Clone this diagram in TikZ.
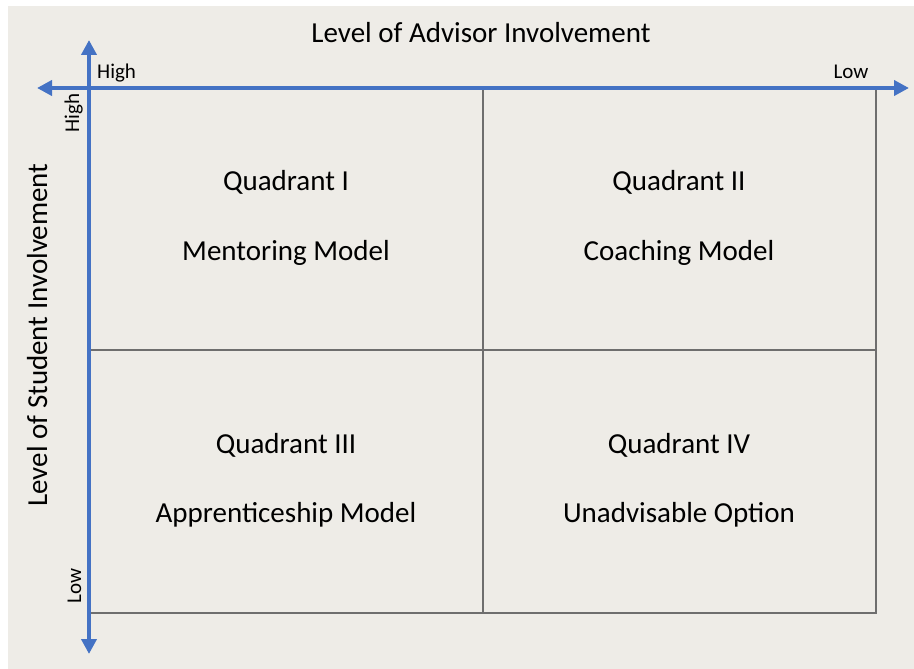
\documentclass[tikz,border=0pt]{standalone}
\usepackage{fontspec}
\setmainfont{Carlito}
\usepackage{tikz}
\usetikzlibrary{arrows.meta}

\begin{document}
\begin{tikzpicture} [x=1pt,y=-1pt]
    % colours and looks %
    \definecolor{bg}{RGB}{238,236,231}
    \definecolor{ax}{RGB}{68,114,196}
    \definecolor{gr}{RGB}{110,110,110}
    \tikzset{
      axisline/.style={line width=4pt,draw=ax,{Triangle[length=15pt,width=15pt]}-{Triangle[length=15pt,width=15pt]}},
      bigtext/.style={font=\fontsize{29}{33}\selectfont,anchor=base,inner sep=0pt},
      smalltext/.style={font=\fontsize{21}{24}\selectfont,anchor=base,inner sep=0pt}
    }
    \useasboundingbox (0,0) rectangle (914,669);
    \fill[bg] (8,6) rectangle (914,669);

    % quadrant grid %
    \draw[gr,line width=1.5pt] (89,88) rectangle (876,613);
    \draw[gr,line width=1.5pt] (483,88) -- (483,613);
    \draw[gr,line width=1.5pt] (89,350) -- (876,350);

    % axes %
    \coordinate (xl) at (37,88);
    \coordinate (xr) at (909,88);
    \coordinate (yt) at (89,40);
    \coordinate (yb) at (89,654);
    \draw[axisline] (xl) -- (xr);
    \draw[axisline] (yt) -- (yb);

    % axis labels %
    \node[bigtext] (advisor) at (481,43) {Level of Advisor Involvement};
    \node[bigtext,rotate=90] (student) at (47,335) {Level of Student Involvement};
    \node[smalltext,anchor=base west] (xhigh) at (97,78) {High};
    \node[smalltext] (xlow) at (851,79) {Low};
    \node[smalltext,rotate=90] (yhigh) at (79,113) {High};
    \node[smalltext,rotate=90] (ylow) at (81,586) {Low};

    % quadrants %
    \node[bigtext] (q1) at (286,190) {Quadrant I};
    \node[bigtext] (m1) at (286,260) {Mentoring Model};
    \node[bigtext] (q2) at (679,190) {Quadrant II};
    \node[bigtext] (m2) at (679,260) {Coaching Model};
    \node[bigtext] (q3) at (286,453) {Quadrant III};
    \node[bigtext] (m3) at (286,522) {Apprenticeship Model};
    \node[bigtext] (q4) at (679,453) {Quadrant IV};
    \node[bigtext] (m4) at (679,522) {Unadvisable Option};
  \end{tikzpicture}
\end{document}
